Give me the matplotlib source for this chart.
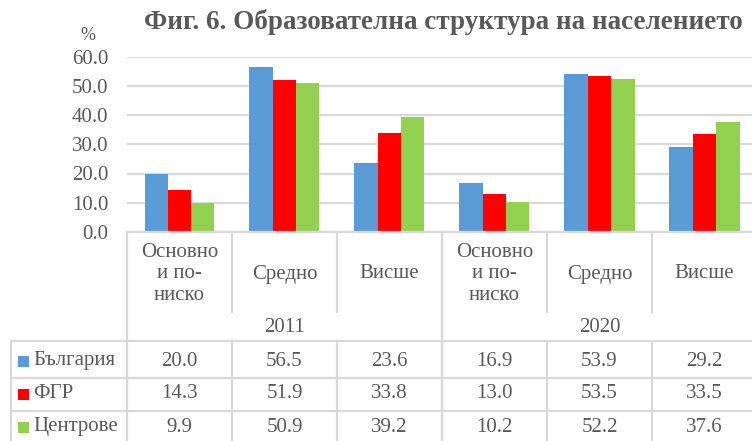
import matplotlib
matplotlib.use("Agg")
import matplotlib.pyplot as plt
from matplotlib.lines import Line2D
from matplotlib.patches import Rectangle
import matplotlib.transforms as mtransforms
import numpy as np

plt.rcParams['font.family'] = ['Liberation Serif', 'DejaVu Serif']

title = "Фиг. 6. Образователна структура на населението"
categories = ["Основно\nи по-\nниско", "Средно", "Висше",
              "Основно\nи по-\nниско", "Средно", "Висше"]
years = ["2011", "2020"]
series_names = ["България", "ФГР", "Центрове"]
bulgaria = [20.0, 56.5, 23.6, 16.9, 53.9, 29.2]
fgr = [14.3, 51.9, 33.8, 13.0, 53.5, 33.5]
centers = [9.9, 50.9, 39.2, 10.2, 52.2, 37.6]
yticks = [0, 10, 20, 30, 40, 50, 60]

colors = ["#5B9BD5", "#FF0000", "#92D050"]
text_color = "#595959"
grid_color = "#D9D9D9"
fs = 15

W, H = 752, 441
fig = plt.figure(figsize=(W / 100, H / 100), dpi=100)

def fy(py):
    return 1 - py / H

def fx(px):
    return px / W

ax_left, ax_right, ax_top, ax_bottom = 127, 757, 56.5, 232
ax = fig.add_axes([fx(ax_left), fy(ax_bottom), (ax_right - ax_left) / W, (ax_bottom - ax_top) / H])

x = np.arange(len(categories))
bw = 2 / 9
for i, (vals, c) in enumerate(zip([bulgaria, fgr, centers], colors)):
    ax.bar(x + (i - 1) * bw, vals, width=bw, color=c, zorder=3)

ax.set_xlim(-0.5, len(categories) - 0.5)
ax.set_ylim(0, 60)
ax.set_yticks(yticks)
ax.set_yticklabels([f"{v:.1f}" for v in yticks], fontsize=fs, color=text_color)
ax.tick_params(axis='y', length=0, pad=13.5)
ax.set_xticks([])
for s in ax.spines.values():
    s.set_visible(False)
ax.yaxis.grid(True, color=grid_color, linewidth=1.6, zorder=0)
ax.set_axisbelow(True)

fig.text(fx(88), fy(35), "%", fontsize=13, color=text_color, ha='center', va='center')
fig.text(fx(443), fy(22), title, fontsize=19.5, fontweight='bold', color=text_color,
         ha='center', va='center')

bt = mtransforms.blended_transform_factory(ax.transData, fig.transFigure)
lw = 1.6

def vline(xd, py0, py1):
    fig.add_artist(Line2D([xd, xd], [fy(py0), fy(py1)], transform=bt, color=grid_color,
                          linewidth=lw, clip_on=False))

def hline_fig(px0, px1, py):
    fig.add_artist(Line2D([fx(px0), fx(px1)], [fy(py), fy(py)], transform=fig.transFigure,
                          color=grid_color, linewidth=lw, clip_on=False))

# axis baseline
hline_fig(ax_left, W + 5, ax_bottom)
cat_bottom, year_bottom = 312, 341
row_lines = [341, 378, 411, 444]
for b in np.arange(-0.5, len(categories), 1.0):
    if b in (-0.5, 2.5, 5.5):
        vline(b, ax_bottom, H + 5)
    else:
        vline(b, ax_bottom, cat_bottom)
        vline(b, year_bottom, H + 5)
# left column line
fig.add_artist(Line2D([fx(11), fx(11)], [fy(341), fy(H + 5)], transform=fig.transFigure,
                      color=grid_color, linewidth=lw, clip_on=False))
for py in row_lines:
    hline_fig(11, W + 5, py)

# category labels
for i, lab in enumerate(categories):
    fig.text(i, fy(274), lab, transform=bt, ha='center', va='center', fontsize=fs,
             color=text_color, linespacing=1.15)
# years
for j, y in enumerate(years):
    fig.text(j * 3 + 1, fy(328), y, transform=bt, ha='center', va='center', fontsize=fs,
             color=text_color)

# data rows
row_centers = [361, 394, 427]
for name, vals, c, rc in zip(series_names, [bulgaria, fgr, centers], colors, row_centers):
    fig.add_artist(Rectangle((fx(18), fy(rc + 5.5)), 11 / W, 11 / H, transform=fig.transFigure,
                             facecolor=c, edgecolor='none'))
    fig.text(fx(33), fy(rc), name, ha='left', va='center', fontsize=fs, color=text_color)
    for i, v in enumerate(vals):
        fig.text(i, fy(rc), f"{v:.1f}", transform=bt, ha='center', va='center',
                 fontsize=fs, color=text_color)

fig.savefig("out.png", dpi=100)
